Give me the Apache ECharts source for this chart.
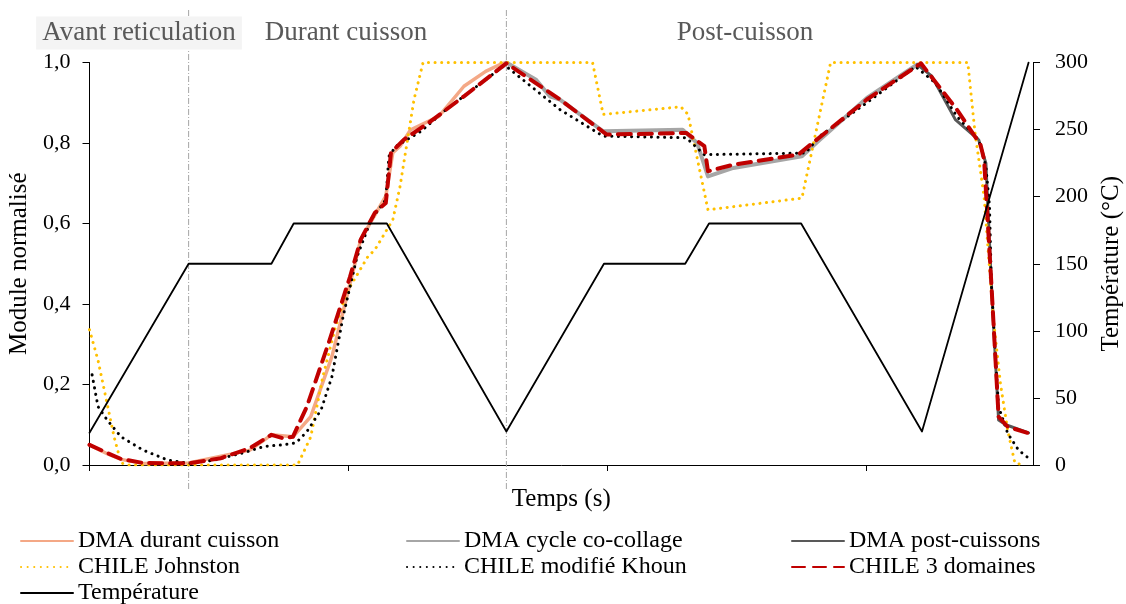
<!DOCTYPE html>
<html>
<head>
<meta charset="utf-8">
<script src="https://cdn.jsdelivr.net/npm/echarts@6/dist/echarts.min.js"></script>
<style>
  html, body { margin: 0; padding: 0; background: #fff; }
  #chart { width: 1126px; height: 604px; }
</style>
</head>
<body>
<div id="chart"></div>
<script>
// temps en secondes, module normalise (0-1), temperature en degC
const xMax = 36460;
const xTicks = [0, 10000, 20000, 30000];
const separateurs = [3830, 16110];

const dmaCuisson = [[0, 0.05], [680, 0.028], [1220, 0.014], [2070, 0.004], [3830, 0.005], [6200, 0.037],
  [7030, 0.075], [7860, 0.07], [8550, 0.12], [9370, 0.27], [10200, 0.485], [10480, 0.56], [11450, 0.668],
  [11720, 0.776], [12000, 0.792], [12410, 0.833], [13500, 0.866], [14470, 0.941], [15310, 0.978],
  [15860, 0.995], [16110, 1.0]];

const dmaCoCollage = [[16110, 1.0], [17240, 0.958], [17790, 0.916], [18180, 0.908], [19850, 0.829],
  [22920, 0.833], [23480, 0.8], [23900, 0.717], [24880, 0.738], [27530, 0.767], [28220, 0.808],
  [30040, 0.912], [31990, 0.995]];

const dmaPost = [[31990, 0.995], [32550, 0.966], [33460, 0.858], [34360, 0.808], [34640, 0.75],
  [34850, 0.452], [34920, 0.369], [35130, 0.112], [35410, 0.1], [36290, 0.08]];

const chileJohnston = [[0, 0.336], [330, 0.26], [680, 0.153], [950, 0.07], [1220, 0.005], [1500, 0],
  [8040, 0], [8550, 0.07], [9020, 0.22], [9510, 0.344], [9930, 0.428], [10760, 0.518], [11030, 0.535],
  [11720, 0.609], [12000, 0.692], [12540, 0.908], [12890, 1.0], [19440, 1.0], [19850, 0.871],
  [22850, 0.89], [23130, 0.871], [23900, 0.634], [27530, 0.663], [28640, 1.0], [33940, 1.0],
  [34220, 0.825], [34570, 0.667], [34920, 0.369], [35200, 0.203], [35480, 0.087], [35760, 0.005],
  [36110, 0]];

const chileKhoun = [[100, 0.224], [330, 0.145], [680, 0.112], [1220, 0.07], [2070, 0.037], [3030, 0.012],
  [3830, 0.004], [4810, 0.012], [5930, 0.03], [6740, 0.046], [7440, 0.05], [7980, 0.055], [8400, 0.083],
  [8950, 0.137], [9370, 0.22], [9800, 0.369], [10340, 0.518], [10880, 0.609], [11450, 0.659],
  [11570, 0.767], [11840, 0.792], [12810, 0.829], [13780, 0.883], [16000, 0.991], [16110, 0.99],
  [18180, 0.883], [19850, 0.817], [23060, 0.813], [23760, 0.771], [27670, 0.775], [28220, 0.817],
  [30040, 0.9], [31920, 0.99], [32690, 0.949], [33520, 0.866], [34360, 0.808], [34640, 0.742],
  [34780, 0.643], [34850, 0.452], [34990, 0.286], [35130, 0.145], [35480, 0.079], [35900, 0.037],
  [36290, 0.017]];

const chile3Domaines = [[0, 0.05], [680, 0.03], [1220, 0.015], [2070, 0.005], [3830, 0.004], [5080, 0.017],
  [6200, 0.042], [7030, 0.075], [7440, 0.067], [7860, 0.07], [8400, 0.145], [9240, 0.303], [10070, 0.468],
  [10480, 0.56], [11030, 0.627], [11450, 0.651], [11650, 0.776], [12140, 0.808], [13100, 0.85],
  [14470, 0.916], [16110, 0.998], [18180, 0.908], [19990, 0.821], [23060, 0.825], [23760, 0.792],
  [23900, 0.73], [24880, 0.746], [27390, 0.771], [27940, 0.8], [30040, 0.908], [32130, 0.998],
  [33520, 0.883], [34430, 0.796], [34570, 0.759], [34850, 0.452], [35130, 0.12], [35480, 0.095],
  [36290, 0.079]];

const temperature = [[0, 24], [3830, 150], [7030, 150], [7890, 180], [11490, 180], [16110, 25],
  [19880, 150], [23020, 150], [23940, 180], [27500, 180], [32170, 25], [36290, 300]];

// ordre de la legende (3 colonnes)
const legendNames = ['DMA durant cuisson', 'DMA cycle co-collage', 'DMA post-cuissons',
  'CHILE Johnston', 'CHILE modifié Khoun', 'CHILE 3 domaines', 'Température'];

const FONT = '"Liberation Serif", "Times New Roman", serif';

const chart = echarts.init(document.getElementById('chart'), null, { renderer: 'canvas' });

function ligne(name, data, color, width, type, yAxisIndex) {
  return {
    name: name,
    type: 'line',
    data: data,
    yAxisIndex: yAxisIndex || 0,
    showSymbol: false,
    symbol: 'none',
    smooth: false,
    silent: true,
    lineStyle: { color: color, width: width, type: type || 'solid', cap: 'round', join: 'round' },
    itemStyle: { color: color }
  };
}

const colX = [20, 406, 791];
const rowY = [529, 555, 581];
const legends = legendNames.map(function (name, i) {
  return {
    data: [name],
    left: colX[i % 3],
    top: rowY[Math.floor(i / 3)],
    padding: 0,
    itemWidth: 52,
    itemHeight: 14,
    itemGap: 0,
    selectedMode: false,
    itemStyle: { opacity: 0 },
    textStyle: { fontFamily: FONT, fontSize: 24, color: '#000', lineHeight: 22 }
  };
});

var option = {
  animation: false,
  backgroundColor: '#fff',
  grid: { left: 89.5, right: 93, top: 62.5, bottom: 139, containLabel: false, outerBoundsMode: 'none' },
  legend: legends,
  xAxis: {
    type: 'value',
    min: 0,
    max: xMax,
    name: 'Temps (s)',
    nameLocation: 'middle',
    nameGap: 22,
    nameTextStyle: { fontFamily: FONT, fontSize: 25, color: '#000' },
    axisLine: { show: true, lineStyle: { color: '#000', width: 1 } },
    axisTick: { show: true, length: 6, customValues: xTicks, lineStyle: { color: '#000' } },
    axisLabel: { show: false },
    splitLine: { show: false }
  },
  yAxis: [
    {
      type: 'value',
      min: 0,
      max: 1,
      interval: 0.2,
      name: 'Module normalisé',
      nameLocation: 'middle',
      nameGap: 51,
      nameRotate: 90,
      nameTextStyle: { fontFamily: FONT, fontSize: 25, color: '#000' },
      axisLine: { show: true, lineStyle: { color: '#000', width: 1 } },
      axisTick: { show: true, length: 7, lineStyle: { color: '#000' } },
      axisLabel: {
        fontFamily: FONT, fontSize: 22, color: '#000', margin: 19,
        formatter: function (v) { return v.toFixed(1).replace('.', ','); }
      },
      splitLine: { show: false }
    },
    {
      type: 'value',
      min: 0,
      max: 300,
      interval: 50,
      position: 'right',
      name: 'Température (°C)',
      nameLocation: 'middle',
      nameGap: 66,
      nameRotate: 90,
      nameTextStyle: { fontFamily: FONT, fontSize: 25, color: '#000' },
      axisLine: { show: true, lineStyle: { color: '#000', width: 1 } },
      axisTick: { show: true, length: 7, lineStyle: { color: '#000' } },
      axisLabel: { fontFamily: FONT, fontSize: 22, color: '#000', margin: 22 },
      splitLine: { show: false }
    }
  ],
  series: [
    ligne('DMA durant cuisson', dmaCuisson, '#F4A886', 3.5),
    ligne('DMA cycle co-collage', dmaCoCollage, '#A6A6A6', 4),
    ligne('DMA post-cuissons', dmaPost, '#595959', 3),
    ligne('CHILE Johnston', chileJohnston, '#FFC000', 3, [0.1, 6.5]),
    ligne('CHILE modifié Khoun', chileKhoun, '#000000', 3, [0.1, 6.5]),
    ligne('CHILE 3 domaines', chile3Domaines, '#C00000', 4, [13, 8]),
    ligne('Température', temperature, '#000000', 1.8, 'solid', 1)
  ]
};

chart.setOption(option);

// separateurs de zones et titres des zones
const graphics = separateurs.map(function (x) {
  const px = chart.convertToPixel({ xAxisIndex: 0 }, x);
  return {
    type: 'line',
    silent: true,
    z: 1,
    shape: { x1: px, y1: 10, x2: px, y2: 490 },
    style: { stroke: '#A6A6A6', lineWidth: 1, lineDash: [6, 2, 1, 2] }
  };
});

const titreStyle = { font: '27px ' + FONT, fill: '#595959', align: 'center', verticalAlign: 'middle' };
graphics.push({
  type: 'text', silent: true, z: 10,
  style: Object.assign({ text: 'Avant reticulation', x: 139, y: 33, backgroundColor: '#F4F4F4', padding: [3, 6] }, titreStyle)
});
graphics.push({
  type: 'text', silent: true, z: 10,
  style: Object.assign({ text: 'Durant cuisson', x: 346, y: 33 }, titreStyle)
});
graphics.push({
  type: 'text', silent: true, z: 10,
  style: Object.assign({ text: 'Post-cuisson', x: 745, y: 33 }, titreStyle)
});

chart.setOption({ graphic: graphics });
</script>
</body>
</html>
